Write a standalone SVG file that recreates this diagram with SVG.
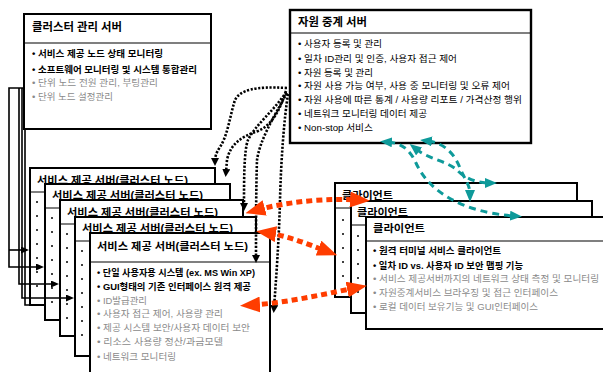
<svg xmlns="http://www.w3.org/2000/svg" width="603" height="372" viewBox="0 0 603 372">
<style>
.box{fill:#fff;stroke:#000;stroke-width:2}
.sep{stroke:#000;stroke-width:1.2}
.t{font-family:"Liberation Sans","Noto Sans CJK KR",sans-serif;fill:#000}
.it{font-size:9.3px}
.b{font-weight:bold}
.g{fill:#8a8a8a}
.ti{font-size:11px;font-weight:bold}
.dot{fill:#000}
.lk{fill:none;stroke:#000;stroke-width:1.6}
.dk{fill:none;stroke:#000;stroke-width:2.6;stroke-dasharray:2.2 1.6}
.rd{fill:none;stroke:#FF3D00;stroke-width:5;stroke-dasharray:6 4}
.tl{fill:none;stroke:#0E9A9A;stroke-width:3;stroke-dasharray:7 5}
</style>
<defs>
<marker id="mr" viewBox="0 0 20 16" refX="8" refY="8" markerWidth="20" markerHeight="16" markerUnits="userSpaceOnUse" orient="auto-start-reverse"><path d="M0,0 L20,8 L0,16 z" fill="#FF3D00"/></marker>
<marker id="mt" viewBox="0 0 12 10" refX="4" refY="5" markerWidth="12" markerHeight="10" markerUnits="userSpaceOnUse" orient="auto-start-reverse"><path d="M0,0 L12,5 L0,10 z" fill="#0E9A9A"/></marker>
<marker id="mk" viewBox="0 0 8 8" refX="3" refY="4" markerWidth="8" markerHeight="8" markerUnits="userSpaceOnUse" orient="auto"><path d="M0,0 L8,4 L0,8 z" fill="#000"/></marker>
<marker id="ms" viewBox="0 0 8 7" refX="2" refY="3.5" markerWidth="8" markerHeight="7" markerUnits="userSpaceOnUse" orient="auto"><path d="M0,0 L8,3.5 L0,7 z" fill="#000"/></marker>
</defs>

<g id="cluster-manager">
<rect class="box" x="24" y="14" width="187" height="115"/>
<line class="sep" x1="24" y1="43" x2="211" y2="43"/>
<text class="t ti" x="32" y="31" textLength="90" lengthAdjust="spacingAndGlyphs">클러스터 관리 서버</text>
<text class="t it b" x="32" y="57" textLength="131" lengthAdjust="spacingAndGlyphs">• 서비스 제공 노드 상태 모니터링</text>
<text class="t it b" x="32" y="72.5" textLength="165" lengthAdjust="spacingAndGlyphs">• 소프트웨어 모니터링 및 시스템 통합관리</text>
<text class="t it g" x="32" y="85.5" textLength="126" lengthAdjust="spacingAndGlyphs">• 단위 노드 전원 관리, 부팅관리</text>
<text class="t it g" x="32" y="100" textLength="81" lengthAdjust="spacingAndGlyphs">• 단위 노드 설정관리</text>
</g>

<g id="relay-server">
<rect class="box" x="290" y="10" width="241" height="133" style="stroke-width:2.4"/>
<line class="sep" x1="290" y1="33" x2="531" y2="33"/>
<text class="t ti" x="298" y="26" textLength="69" lengthAdjust="spacingAndGlyphs">자원 중계 서버</text>
<text class="t it" x="298" y="46.5" textLength="84" lengthAdjust="spacingAndGlyphs">• 사용자 등록 및 관리</text>
<text class="t it" x="298" y="61.5" textLength="159" lengthAdjust="spacingAndGlyphs">• 일차 ID관리 및 인증, 사용자 접근 제어</text>
<text class="t it" x="298" y="75.5" textLength="75" lengthAdjust="spacingAndGlyphs">• 자원 등록 및 관리</text>
<text class="t it" x="298" y="88.5" textLength="212" lengthAdjust="spacingAndGlyphs">• 자원 사용 가능 여부, 사용 중 모니터링 및 오류 제어</text>
<text class="t it" x="298" y="102.5" textLength="224" lengthAdjust="spacingAndGlyphs">• 자원 사용에 따른 통계 / 사용량 리포트 / 가격산정 행위</text>
<text class="t it" x="298" y="116.5" textLength="129" lengthAdjust="spacingAndGlyphs">• 네트워크 모니터링 데이터 제공</text>
<text class="t it" x="298" y="130.5" textLength="75" lengthAdjust="spacingAndGlyphs">• Non-stop 서비스</text>
</g>

<g id="service-node-1">
<rect class="box" x="30" y="168" width="185" height="137"/>
<line class="sep" x1="30" y1="192" x2="215" y2="192"/>
<text class="t ti" x="37" y="184" textLength="151" lengthAdjust="spacingAndGlyphs" style="font-size:10.5px">서비스 제공 서버(클러스터 노드)</text>
<g class="dot"><circle cx="37" cy="202" r="1"/><circle cx="37" cy="216" r="1"/><circle cx="37" cy="230" r="1"/><circle cx="37" cy="244" r="1"/><circle cx="37" cy="258" r="1"/><circle cx="37" cy="272" r="1"/><circle cx="37" cy="286" r="1"/></g>
</g>
<g id="service-node-2">
<rect class="box" x="45" y="184" width="185" height="136"/>
<line class="sep" x1="45" y1="208" x2="230" y2="208"/>
<text class="t ti" x="52" y="199" textLength="151" lengthAdjust="spacingAndGlyphs" style="font-size:10.5px">서비스 제공 서버(클러스터 노드)</text>
<g class="dot"><circle cx="52" cy="218" r="1"/><circle cx="52" cy="232" r="1"/><circle cx="52" cy="246" r="1"/><circle cx="52" cy="260" r="1"/><circle cx="52" cy="274" r="1"/><circle cx="52" cy="288" r="1"/><circle cx="52" cy="302" r="1"/></g>
</g>
<g id="service-node-3">
<rect class="box" x="60" y="200" width="183" height="136"/>
<line class="sep" x1="60" y1="224" x2="243" y2="224"/>
<text class="t ti" x="67" y="216" textLength="151" lengthAdjust="spacingAndGlyphs" style="font-size:10.5px">서비스 제공 서버(클러스터 노드)</text>
<g class="dot"><circle cx="67" cy="234" r="1"/><circle cx="67" cy="248" r="1"/><circle cx="67" cy="262" r="1"/><circle cx="67" cy="276" r="1"/><circle cx="67" cy="290" r="1"/><circle cx="67" cy="304" r="1"/><circle cx="67" cy="318" r="1"/></g>
</g>
<g id="service-node-4">
<rect class="box" x="75" y="217" width="181" height="139"/>
<line class="sep" x1="75" y1="241" x2="256" y2="241"/>
<text class="t ti" x="82" y="232" textLength="151" lengthAdjust="spacingAndGlyphs" style="font-size:10.5px">서비스 제공 서버(클러스터 노드)</text>
<g class="dot"><circle cx="82" cy="251" r="1"/><circle cx="82" cy="265" r="1"/><circle cx="82" cy="279" r="1"/><circle cx="82" cy="293" r="1"/><circle cx="82" cy="307" r="1"/><circle cx="82" cy="321" r="1"/><circle cx="82" cy="335" r="1"/></g>
</g>
<g id="service-node-5">
<rect class="box" x="90" y="233" width="180" height="150"/>
<line class="sep" x1="90" y1="262" x2="270" y2="262"/>
<text class="t ti" x="97" y="250" textLength="151" lengthAdjust="spacingAndGlyphs" style="font-size:10.5px">서비스 제공 서버(클러스터 노드)</text>
<text class="t it b" x="97" y="276.3" textLength="158" lengthAdjust="spacingAndGlyphs">• 단일 사용자용 시스템 (ex. MS Win XP)</text>
<text class="t it b" x="97" y="290.3" textLength="154" lengthAdjust="spacingAndGlyphs">• GUI형태의 기존 인터페이스 원격 제공</text>
<text class="t it g" x="97" y="304.3" textLength="50" lengthAdjust="spacingAndGlyphs">• ID발급관리</text>
<text class="t it g" x="97" y="317.3" textLength="126" lengthAdjust="spacingAndGlyphs">• 사용자 접근 제어, 사용량 관리</text>
<text class="t it g" x="97" y="331.3" textLength="153" lengthAdjust="spacingAndGlyphs">• 제공 시스템 보안/사용자 데이터 보안</text>
<text class="t it g" x="97" y="345.3" textLength="126" lengthAdjust="spacingAndGlyphs">• 리소스 사용량 정산/과금모델</text>
<text class="t it g" x="97" y="360.3" textLength="79" lengthAdjust="spacingAndGlyphs">• 네트워크 모니터링</text>
</g>

<g id="client-1">
<rect class="box" x="335" y="183" width="242" height="114"/>
<line class="sep" x1="335" y1="208" x2="577" y2="208"/>
<text class="t ti" x="342" y="199" textLength="51" lengthAdjust="spacingAndGlyphs" style="font-size:10.5px">클라이언트</text>
<g class="dot"><circle cx="343" cy="220" r="1"/><circle cx="343" cy="234" r="1"/><circle cx="343" cy="248" r="1"/><circle cx="343" cy="262" r="1"/><circle cx="343" cy="276" r="1"/></g>
</g>
<g id="client-2">
<rect class="box" x="351" y="201" width="241" height="112"/>
<line class="sep" x1="351" y1="225" x2="592" y2="225"/>
<text class="t ti" x="357" y="216" textLength="51" lengthAdjust="spacingAndGlyphs" style="font-size:10.5px">클라이언트</text>
<g class="dot"><circle cx="358" cy="236" r="1"/><circle cx="358" cy="250" r="1"/><circle cx="358" cy="264" r="1"/><circle cx="358" cy="278" r="1"/><circle cx="358" cy="292" r="1"/></g>
</g>
<g id="client-3">
<rect class="box" x="366" y="217" width="244" height="112"/>
<line class="sep" x1="366" y1="241" x2="610" y2="241"/>
<text class="t ti" x="373" y="232" textLength="52" lengthAdjust="spacingAndGlyphs" style="font-size:10.5px">클라이언트</text>
<text class="t it b" x="373" y="254.3" textLength="128" lengthAdjust="spacingAndGlyphs">• 원격 터미널 서비스 클라이언트</text>
<text class="t it b" x="373" y="269.3" textLength="150" lengthAdjust="spacingAndGlyphs">• 일차 ID vs. 사용자 ID 보안 맵핑 기능</text>
<text class="t it g" x="373" y="282.3" textLength="226" lengthAdjust="spacingAndGlyphs">• 서비스 제공서버까지의 네트워크 상태 측정 및 모니터링</text>
<text class="t it g" x="373" y="296.3" textLength="185" lengthAdjust="spacingAndGlyphs">• 자원중계서비스 브라우징 및 접근 인터페이스</text>
<text class="t it g" x="373" y="310.3" textLength="165" lengthAdjust="spacingAndGlyphs">• 로컬 데이터 보유기능 및 GUI인터페이스</text>
</g>

<g id="connectors">
<path class="lk" d="M24,88 H9 V267 H38" marker-end="url(#ms)"/>
<path class="lk" d="M9,250 H23" marker-end="url(#ms)"/>
<path class="lk" d="M19,88 V284 H53" marker-end="url(#ms)"/>
<path class="lk" d="M22,88 V298 H68" marker-end="url(#ms)"/>
<path class="lk" d="M25,129 V305 H30"/>

<path class="dk" d="M287,88 C255,86 240,90 235,100 C230,115 228,135 220,147 C216,153 215,157 215,161" marker-end="url(#mk)"/>
<path class="dk" d="M286,91 C280,110 272,125 258,131 C240,137 230,145 227,160 L226,172" marker-end="url(#mk)"/>
<path class="dk" d="M286,92 C275,110 255,125 248,140 C244,150 244,180 244,206" marker-end="url(#mk)"/>
<path class="dk" d="M287,93 C272,120 260,140 257,160 C256,190 256,230 256,258" marker-end="url(#mk)"/>
<path class="dk" d="M288,94 C284,120 281,160 280,200 C279,240 276,280 274,308" marker-end="url(#mk)"/>

<path class="rd" d="M257,210 C290,201 330,198 358,200" marker-start="url(#mr)" marker-end="url(#mr)"/>
<path class="rd" d="M268,233 C288,236 305,243 326,251" marker-start="url(#mr)" marker-end="url(#mr)"/>
<path class="rd" d="M252,305 C285,303 320,295 355,288" marker-start="url(#mr)" marker-end="url(#mr)"/>

<path class="tl" d="M388,142 C402,143 410,150 416,163 C428,190 460,212 514,216" marker-start="url(#mt)" marker-end="url(#mt)"/>
<path class="tl" d="M416,149 C430,160 448,161 458,171 C466,179 478,183 489,183" marker-start="url(#mt)" marker-end="url(#mt)"/>
<path class="tl" d="M428,141 C445,143 455,155 460,168 C465,180 470,185 470,194" marker-start="url(#mt)" marker-end="url(#mt)"/>
</g>
</svg>
